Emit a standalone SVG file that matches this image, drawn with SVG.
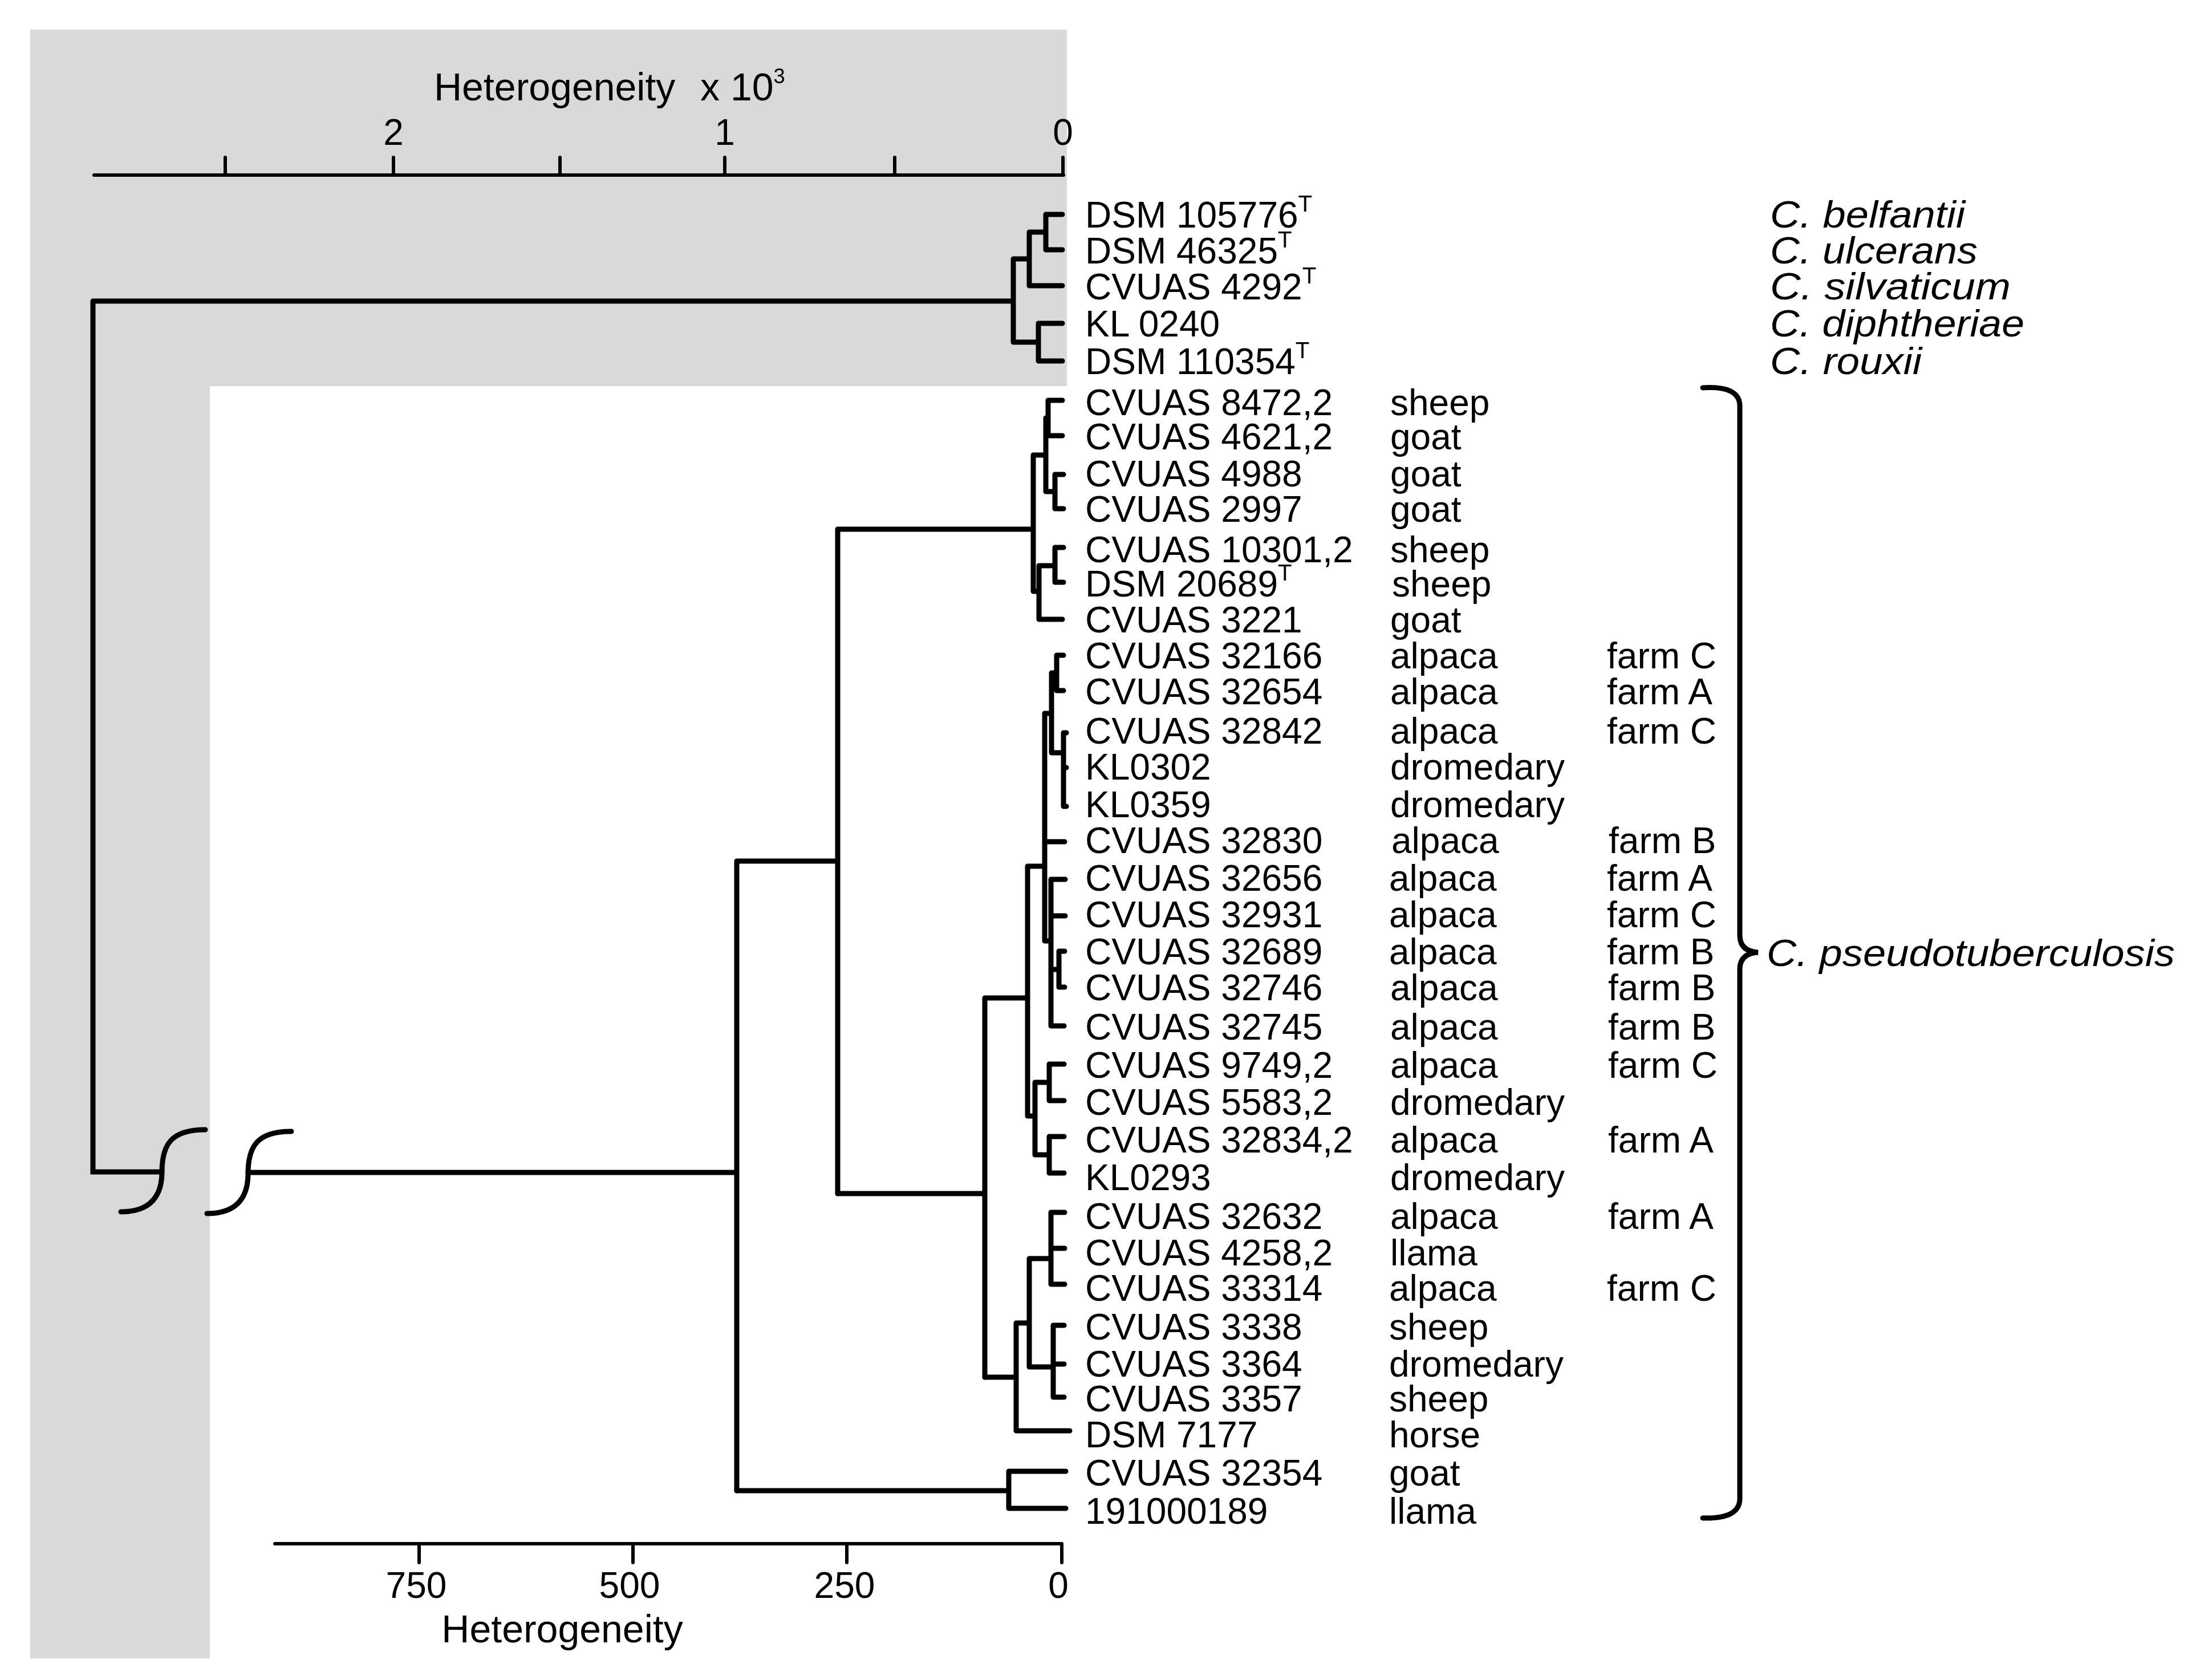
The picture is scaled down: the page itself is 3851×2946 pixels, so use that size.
<svg xmlns="http://www.w3.org/2000/svg" width="3851" height="2946" viewBox="0 0 3851 2946">
<style>
.t{font-family:"Liberation Sans",Arial,sans-serif;font-size:64px;fill:#000}
.sp{font-family:"Liberation Sans",Arial,sans-serif;font-size:66px;font-style:italic;fill:#000}
.ax{font-family:"Liberation Sans",Arial,sans-serif;font-size:68px;fill:#000}
.tick{font-family:"Liberation Sans",Arial,sans-serif;font-size:64px;fill:#000;text-anchor:middle}
.tr{fill:none;stroke:#000;stroke-width:9;stroke-linecap:round;stroke-linejoin:miter}
.axl{fill:none;stroke:#000;stroke-width:6;stroke-linecap:round}
</style>
<rect width="3851" height="2946" fill="#fff"/>
<path id="shade" d="M53 52 H1871 V677 H368 V2908 H53 Z" fill="#d9d9d9"/>

<g id="top-axis">
<path class="axl" d="M165 307 H1865 M395 276 V307 M690 276 V307 M982 276 V307 M1271 276 V307 M1569 276 V307 M1864 276 V307"/>
<text class="tick" x="690" y="254">2</text>
<text class="tick" x="1271" y="254">1</text>
<text class="tick" x="1864" y="254">0</text>
<text class="ax" x="761" y="176">Heterogeneity<tspan x="1228">x 10</tspan><tspan font-size="36" dy="-30">3</tspan></text>
</g>

<g id="bottom-axis">
<path class="axl" d="M482 2707 H1862 M735 2707 V2740 M1110 2707 V2740 M1485 2707 V2740 M1862 2707 V2740"/>
<text class="tick" x="730" y="2802">750</text>
<text class="tick" x="1104" y="2802">500</text>
<text class="tick" x="1481" y="2802">250</text>
<text class="tick" x="1856" y="2802">0</text>
<text class="ax" x="986" y="2880" text-anchor="middle">Heterogeneity</text>
</g>

<g id="connectors">
<path class="tr" d="M1834 376 H1863 M1834 438 H1863 M1834 376 V438 M1805 407 H1834 M1805 501 H1863 M1805 407 V501 M1777 454 H1805 M1821 567 H1863 M1821 633 H1863 M1821 567 V633 M1777 600 H1821 M1777 454 V600 M163 528 H1777 M163 528 V2055 H284"/>
<path class="tr" d="M212 2125 C268 2125 284 2093 284 2055 C284 2007 300 1981 360 1981"/>
<path class="tr" d="M363 2128 C419 2128 435 2096 435 2058 C435 2010 451 1984 511 1984"/>
<path class="tr" d="M435 2056 H1292 M1292 1510 V2614 M1292 1510 H1469 M1469 928 V2093 M1469 928 H1812 M1812 798 V1037 M1812 798 H1834 M1834 733 V862 M1834 733 H1838 M1838 702 V764 M1838 702 H1863 M1838 764 H1863 M1834 862 H1850 M1850 832 V892 M1850 832 H1865 M1850 892 H1865 M1812 1037 H1822 M1822 992 V1086 M1822 1086 H1863 M1822 992 H1850 M1850 960 V1021 M1850 960 H1865 M1850 1021 H1865"/>
<path class="tr" d="M1469 2093 H1727 M1727 1750 V2415 M1727 1750 H1802 M1802 1519 V1957 M1802 1519 H1832 M1832 1251 V1650 M1832 1251 H1844 M1844 1180 V1320 M1844 1180 H1853 M1853 1149 V1211 M1853 1149 H1865 M1853 1211 H1865 M1844 1320 H1865 M1865 1285 V1414 M1865 1285 H1870 M1865 1346 H1870 M1865 1414 H1870 M1832 1476 H1867 M1832 1650 H1843 M1843 1542 V1799 M1843 1542 H1868 M1843 1606 H1868 M1843 1700 H1857 M1857 1668 V1731 M1857 1668 H1867 M1857 1731 H1867 M1843 1799 H1866 M1802 1957 H1815 M1815 1898 V2025 M1815 1898 H1840 M1840 1866 V1930 M1840 1866 H1866 M1840 1930 H1866 M1815 2025 H1840 M1840 1993 V2057 M1840 1993 H1866 M1840 2057 H1866"/>
<path class="tr" d="M1727 2415 H1782 M1782 2320 V2509 M1782 2509 H1876 M1782 2320 H1805 M1805 2207 V2397 M1805 2207 H1843 M1843 2126 V2252 M1843 2126 H1867 M1843 2189 H1867 M1843 2252 H1867 M1805 2397 H1847 M1847 2324 V2450 M1847 2324 H1866 M1847 2392 H1866 M1847 2450 H1866 M1292 2614 H1769 M1769 2580 V2645 M1769 2580 H1869 M1769 2645 H1869"/>
<path class="tr" d="M2986 680 Q3051 676 3051 712 V1640 Q3051 1668 3083 1670 Q3051 1672 3051 1700 V2628 Q3051 2664 2986 2662"/>
</g>

<g id="outgroup-labels">
<g id="n1"><text class="t" x="1903" y="399">DSM 105776<tspan font-size="40" dy="-28">T</tspan></text><text class="sp" x="3104" y="399" textLength="342" lengthAdjust="spacingAndGlyphs">C. belfantii</text></g>
<g id="n2"><text class="t" x="1903" y="462">DSM 46325<tspan font-size="40" dy="-28">T</tspan></text><text class="sp" x="3104" y="462" textLength="364" lengthAdjust="spacingAndGlyphs">C. ulcerans</text></g>
<g id="n3"><text class="t" x="1903" y="525">CVUAS 4292<tspan font-size="40" dy="-28">T</tspan></text><text class="sp" x="3104" y="525" textLength="422" lengthAdjust="spacingAndGlyphs">C. silvaticum</text></g>
<g id="n4"><text class="t" x="1903" y="590">KL 0240</text><text class="sp" x="3104" y="590" textLength="446" lengthAdjust="spacingAndGlyphs">C. diphtheriae</text></g>
<g id="n5"><text class="t" x="1903" y="656">DSM 110354<tspan font-size="40" dy="-28">T</tspan></text><text class="sp" x="3104" y="656" textLength="266" lengthAdjust="spacingAndGlyphs">C. rouxii</text></g>
</g>

<g id="pseudotb-labels">
<g id="n6"><text class="t" x="1903" y="728">CVUAS 8472,2</text><text class="t" x="2438" y="728">sheep</text></g>
<g id="n7"><text class="t" x="1903" y="788">CVUAS 4621,2</text><text class="t" x="2438" y="788">goat</text></g>
<g id="n8"><text class="t" x="1903" y="853">CVUAS 4988</text><text class="t" x="2438" y="853">goat</text></g>
<g id="n9"><text class="t" x="1903" y="915">CVUAS 2997</text><text class="t" x="2438" y="915">goat</text></g>
<g id="n10"><text class="t" x="1903" y="986">CVUAS 10301,2</text><text class="t" x="2438" y="986">sheep</text></g>
<g id="n11"><text class="t" x="1903" y="1046">DSM 20689<tspan font-size="40" dy="-28">T</tspan></text><text class="t" x="2441" y="1046">sheep</text></g>
<g id="n12"><text class="t" x="1903" y="1109">CVUAS 3221</text><text class="t" x="2438" y="1109">goat</text></g>
<g id="n13"><text class="t" x="1903" y="1172">CVUAS 32166</text><text class="t" x="2438" y="1172">alpaca</text><text class="t" x="2818" y="1172">farm C</text></g>
<g id="n14"><text class="t" x="1903" y="1235">CVUAS 32654</text><text class="t" x="2438" y="1235">alpaca</text><text class="t" x="2818" y="1235">farm A</text></g>
<g id="n15"><text class="t" x="1903" y="1304">CVUAS 32842</text><text class="t" x="2438" y="1304">alpaca</text><text class="t" x="2818" y="1304">farm C</text></g>
<g id="n16"><text class="t" x="1903" y="1367">KL0302</text><text class="t" x="2438" y="1367">dromedary</text></g>
<g id="n17"><text class="t" x="1903" y="1433">KL0359</text><text class="t" x="2438" y="1433">dromedary</text></g>
<g id="n18"><text class="t" x="1903" y="1496">CVUAS 32830</text><text class="t" x="2440" y="1496">alpaca</text><text class="t" x="2821" y="1496">farm B</text></g>
<g id="n19"><text class="t" x="1903" y="1562">CVUAS 32656</text><text class="t" x="2436" y="1562">alpaca</text><text class="t" x="2818" y="1562">farm A</text></g>
<g id="n20"><text class="t" x="1903" y="1626">CVUAS 32931</text><text class="t" x="2436" y="1626">alpaca</text><text class="t" x="2818" y="1626">farm C</text></g>
<g id="n21"><text class="t" x="1903" y="1691">CVUAS 32689</text><text class="t" x="2436" y="1691">alpaca</text><text class="t" x="2818" y="1691">farm B</text></g>
<g id="n22"><text class="t" x="1903" y="1754">CVUAS 32746</text><text class="t" x="2438" y="1754">alpaca</text><text class="t" x="2820" y="1754">farm B</text></g>
<g id="n23"><text class="t" x="1903" y="1823">CVUAS 32745</text><text class="t" x="2438" y="1823">alpaca</text><text class="t" x="2820" y="1823">farm B</text></g>
<g id="n24"><text class="t" x="1903" y="1890">CVUAS 9749,2</text><text class="t" x="2438" y="1890">alpaca</text><text class="t" x="2820" y="1890">farm C</text></g>
<g id="n25"><text class="t" x="1903" y="1955">CVUAS 5583,2</text><text class="t" x="2438" y="1955">dromedary</text></g>
<g id="n26"><text class="t" x="1903" y="2021">CVUAS 32834,2</text><text class="t" x="2438" y="2021">alpaca</text><text class="t" x="2820" y="2021">farm A</text></g>
<g id="n27"><text class="t" x="1903" y="2087">KL0293</text><text class="t" x="2438" y="2087">dromedary</text></g>
<g id="n28"><text class="t" x="1903" y="2155">CVUAS 32632</text><text class="t" x="2438" y="2155">alpaca</text><text class="t" x="2820" y="2155">farm A</text></g>
<g id="n29"><text class="t" x="1903" y="2219">CVUAS 4258,2</text><text class="t" x="2438" y="2219">llama</text></g>
<g id="n30"><text class="t" x="1903" y="2281">CVUAS 33314</text><text class="t" x="2436" y="2281">alpaca</text><text class="t" x="2818" y="2281">farm C</text></g>
<g id="n31"><text class="t" x="1903" y="2349">CVUAS 3338</text><text class="t" x="2436" y="2349">sheep</text></g>
<g id="n32"><text class="t" x="1903" y="2414">CVUAS 3364</text><text class="t" x="2436" y="2414">dromedary</text></g>
<g id="n33"><text class="t" x="1903" y="2475">CVUAS 3357</text><text class="t" x="2436" y="2475">sheep</text></g>
<g id="n34"><text class="t" x="1903" y="2538">DSM 7177</text><text class="t" x="2436" y="2538">horse</text></g>
<g id="n35"><text class="t" x="1903" y="2605">CVUAS 32354</text><text class="t" x="2436" y="2605">goat</text></g>
<g id="n36"><text class="t" x="1903" y="2672">191000189</text><text class="t" x="2436" y="2672">llama</text></g>
<g id="species-pt"><text class="sp" x="3098" y="1694" textLength="716" lengthAdjust="spacingAndGlyphs">C. pseudotuberculosis</text></g>
</g>
</svg>
